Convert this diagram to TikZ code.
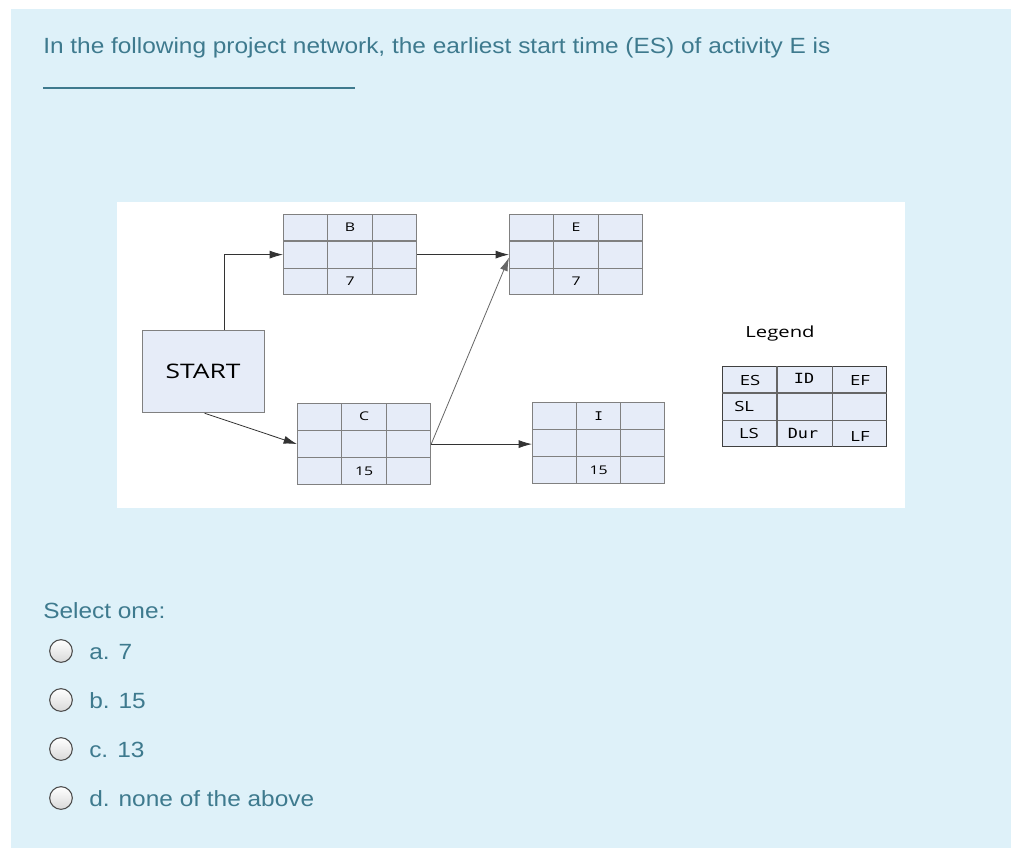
\documentclass[tikz,border=0pt]{standalone}
\usepackage{fontspec}
\setmainfont[FakeStretch=1.11]{Liberation Sans}
\newfontfamily\dfont[FakeStretch=1.32]{Open Sans}
\newfontfamily\mfont[FakeStretch=1.2]{DejaVu Sans Mono}
\usetikzlibrary{calc,arrows.meta}
\definecolor{panelbg}{HTML}{DEF1F9}
\definecolor{qtext}{HTML}{3E7A8E}
\definecolor{boxfill}{HTML}{E6ECF8}
\definecolor{gridc}{HTML}{808080}
\def\px{0.75pt}
\tikzset{
  actbox/.style={draw=gridc, fill=boxfill, line width=0.9pt, inner sep=0pt, rectangle},
  gridline/.style={draw=gridc, line width=0.9pt},
  legbox/.style={draw=black!75, fill=boxfill, line width=0.9pt, inner sep=0pt, rectangle},
  legline/.style={draw=black!60, line width=0.9pt},
  smalllab/.style={font=\dfont\fontsize{9}{10}\selectfont, inner sep=0pt},
  leglab/.style={font=\dfont\fontsize{10.5}{12}\selectfont, inner sep=0pt},
  arr/.style={draw=black!80, line width=0.6pt, -{Latex[length=10pt,width=6pt]}},
  qlab/.style={font=\fontsize{16.5}{20}\selectfont, text=qtext, inner sep=0pt, anchor=base west},
  radio/.style={circle, draw=black!70, line width=0.8pt, top color=white, bottom color=black!15, minimum size=17pt, inner sep=0pt}
}
% name, left x, top y, width, height, top label, bottom label
\newcommand\actgrid[7]{%
  \node[actbox, minimum width=#4*\px, minimum height=#5*\px, anchor=north west] (#1) at (#2,#3) {};
  \draw[gridline] ($(#1.north west)!1/3!(#1.north east)$) -- ($(#1.south west)!1/3!(#1.south east)$);
  \draw[gridline] ($(#1.north west)!2/3!(#1.north east)$) -- ($(#1.south west)!2/3!(#1.south east)$);
  \draw[gridline] ($(#1.north west)!1/3!(#1.south west)$) -- ($(#1.north east)!1/3!(#1.south east)$);
  \draw[gridline] ($(#1.north west)!2/3!(#1.south west)$) -- ($(#1.north east)!2/3!(#1.south east)$);
  \node[smalllab] (#1-top) at ($(#1.north)!1/6!(#1.south)$) {#6};
  \node[smalllab] (#1-bot) at ($(#1.north)!5/6!(#1.south)$) {#7};
}
\begin{document}
\begin{tikzpicture}[x=0.75pt,y=-0.75pt]
\useasboundingbox (0,0) rectangle (1024,861);
\fill[white] (0,0) rectangle (1024,861);
\fill[panelbg] (11,9) rectangle (1011,848);
% question
\node[qlab] (q) at (43,53) {In the following project network, the earliest start time (ES) of activity E is};
\draw[qtext, line width=1.1pt] (43,88) coordinate (u1) -- (355,88) coordinate (u2);
% diagram area
\fill[white] (117,202) rectangle (905,508);
\node[actbox, minimum width=122*\px, minimum height=82*\px, anchor=north west] (START) at (142,330) {};
\node[font=\dfont\fontsize{15}{17}\selectfont, inner sep=0pt] (startlab) at (203,371) {START};
\actgrid{B}{283}{214}{133}{80}{B}{7}
\actgrid{E}{509}{214}{133}{80}{E}{7}
\actgrid{C}{297}{403}{133}{81}{C}{15}
\actgrid{I}{532}{402}{132}{81}{\mfont I}{15}
% connectors
\draw[arr] ($(START.north)+(21,0)$) |- (B.west);
\draw[arr] ($(START.south)+(1,0)$) -- (C.west);
\draw[arr] (B.east) -- (E.west);
\draw[arr, draw=black!60] (C.east) -- ($(E.west)+(0,3)$);
\draw[arr] (C.east) -- (I.west |- C.east);
% legend
\node[font=\dfont\fontsize{11.5}{13}\selectfont, inner sep=0pt] (legend) at (780,334) {Legend};
\node[legbox, minimum width=164*\px, minimum height=80*\px, anchor=north west] (L) at (722,366) {};
\draw[legline] ($(L.north west)!1/3!(L.north east)$) -- ($(L.south west)!1/3!(L.south east)$);
\draw[legline] ($(L.north west)!2/3!(L.north east)$) -- ($(L.south west)!2/3!(L.south east)$);
\draw[legline] ($(L.north west)!1/3!(L.south west)$) -- ($(L.north east)!1/3!(L.south east)$);
\draw[legline] ($(L.north west)!2/3!(L.south west)$) -- ($(L.north east)!2/3!(L.south east)$);
\node[leglab] (les) at (750,380) {ES};
\node[leglab] (lid) at (804,378) {\mfont ID};
\node[leglab] (lef) at (860,380) {EF};
\node[leglab, anchor=west] (lsl) at (734,406) {SL};
\node[leglab] (lls) at (749,433) {LS};
\node[leglab] (ldur) at (803,433) {\mfont Dur};
\node[leglab] (llf) at (860,436) {LF};
% options
\node[qlab] (sel) at (43,618) {Select one:};
\node[radio] (ra) at (61,651) {};
\node[radio] (rb) at (61,700) {};
\node[radio] (rc) at (61,749) {};
\node[radio] (rd) at (61,798) {};
\node[qlab] (oa) at (89,659) {a. 7};
\node[qlab] (ob) at (89,708) {b. 15};
\node[qlab] (oc) at (89,757) {c. 13};
\node[qlab] (od) at (89,806) {d. none of the above};
\end{tikzpicture}
\end{document}
